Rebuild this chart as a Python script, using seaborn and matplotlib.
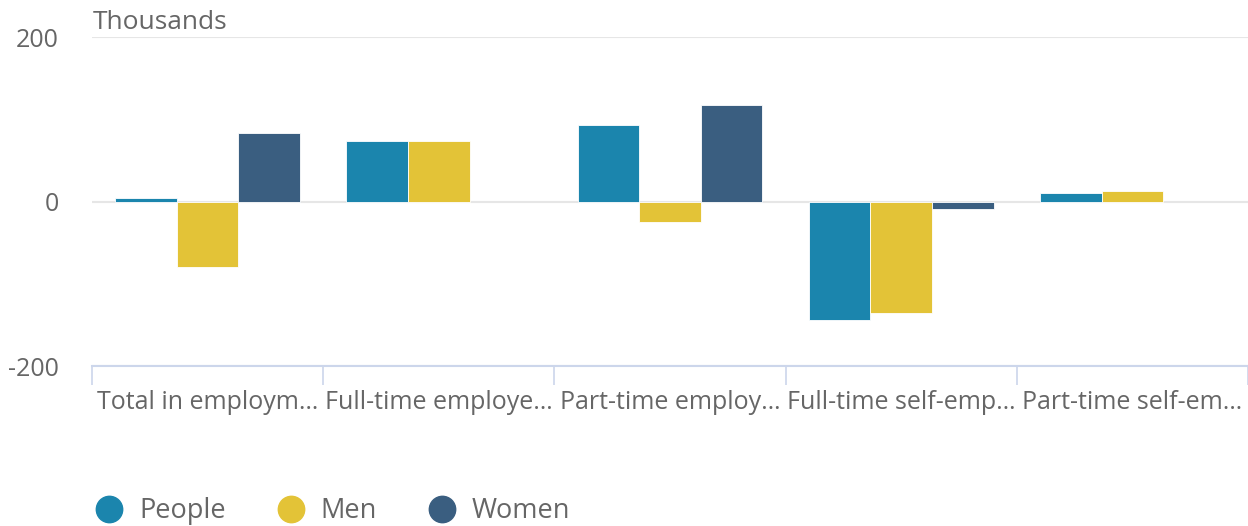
import matplotlib
matplotlib.use("Agg")
from matplotlib import pyplot as plt
from matplotlib.lines import Line2D
import pandas as pd
import numpy as np
import seaborn as sns

# categories shown on the x axis (truncated as in the chart)
categories = ['Total in employm…', 'Full-time employe…', 'Part-time employ…',
              'Full-time self-emp…', 'Part-time self-em…']
series = ['People', 'Men', 'Women']
people = [5, 74, 93, -144, 10]
men = [-80, 74, -25, -135, 13]
women = [84, np.nan, 118, -9, np.nan]
colors = ['#1b85ad', '#e3c337', '#3a5e80']

rows = []
for s, vals in zip(series, [people, men, women]):
    for c, v in zip(categories, vals):
        rows.append({'cat': c, 'series': s, 'value': v})
df = pd.DataFrame(rows)

sns.set_style('white')
plt.rcParams['font.family'] = ['Open Sans', 'DejaVu Sans']
text_col = '#666666'

fig = plt.figure(figsize=(12.48, 5.26), dpi=100)
ax = fig.add_axes([0.0737, 0.304, 0.9263, 0.6253])

sns.barplot(data=df, x='cat', y='value', hue='series', palette=colors,
            order=categories, hue_order=series, width=0.8, errorbar=None,
            saturation=1, edgecolor='white', linewidth=0.6, legend=False,
            ax=ax, zorder=3)

ax.set_xlim(-0.5, 4.5)
ax.set_ylim(-200, 200)
ax.set_yticks([-200, 0, 200])
ax.set_yticklabels(['-200', '0', '200'])
ax.yaxis.grid(True, color='#e6e6e6', linewidth=1.5, zorder=0)
ax.tick_params(axis='y', length=0, pad=24, labelsize=18, labelcolor=text_col)

ax.set_xticks(range(len(categories)))
ax.set_xticklabels(categories)
ax.set_xticks(np.arange(-0.5, 5.0, 1.0), minor=True)
ax.tick_params(axis='x', which='major', bottom=True, length=0, pad=17,
               labelsize=18, labelcolor=text_col)
ax.tick_params(axis='x', which='minor', bottom=True, length=14, width=1.2,
               color='#ccd6eb')

for side in ['top', 'right', 'left']:
    ax.spines[side].set_visible(False)
ax.spines['bottom'].set_color('#ccd6eb')
ax.spines['bottom'].set_linewidth(1.5)
ax.set_xlabel('')
ax.set_ylabel('')

fig.text(0.0745, 0.957, 'Thousands', fontsize=19, color=text_col, va='center', ha='left')

handles = [Line2D([], [], marker='o', linestyle='', markersize=19,
                  markerfacecolor=c, markeredgecolor=c, label=s)
           for s, c in zip(series, colors)]
fig.legend(handles=handles, loc='center left', bbox_to_anchor=(0.055, 0.028),
           ncol=3, frameon=False, fontsize=19.5, labelcolor=text_col,
           handletextpad=0.5, columnspacing=1.8, handlelength=1.2)

fig.savefig('out.png', dpi=100)
